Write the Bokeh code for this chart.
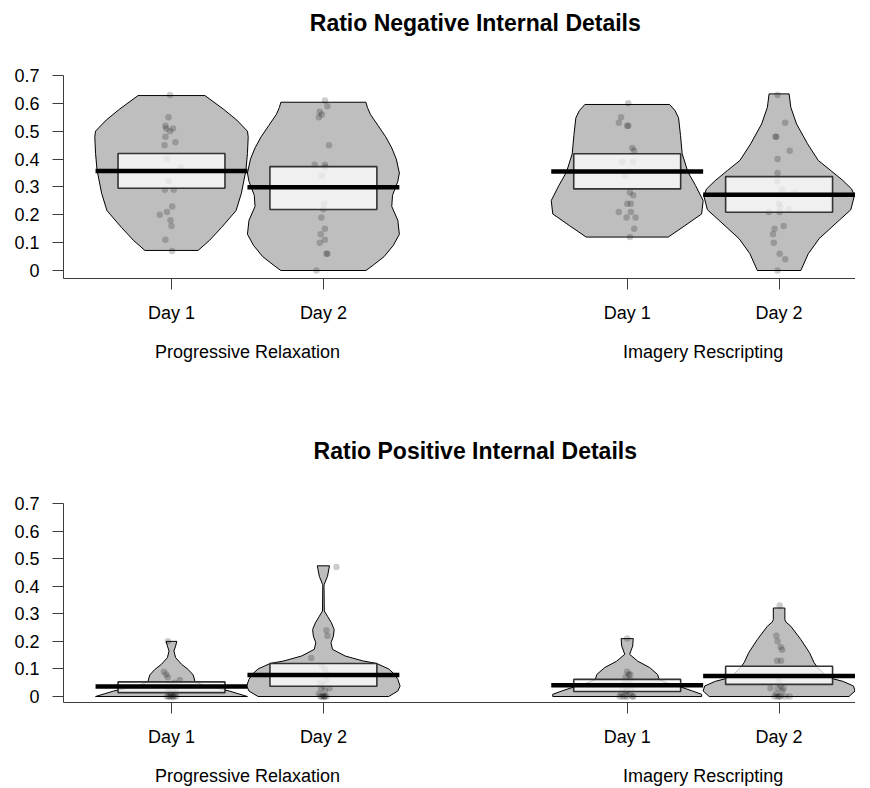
from bokeh.plotting import figure
from bokeh.layouts import column
from bokeh.models import FixedTicker, LinearAxis, Range1d
from bokeh.embed import file_html
from bokeh.resources import INLINE

# ---------------- data ----------------
conditions = ["Progressive Relaxation", "Imagery Rescripting"]
days = ["Day 1", "Day 2"]
y_ticks = [0, 0.1, 0.2, 0.3, 0.4, 0.5, 0.6, 0.7]

# Panel 1 : Ratio Negative Internal Details  (order: PR D1, PR D2, IR D1, IR D2)
neg_title = "Ratio Negative Internal Details"
neg_pr_d1 = [0.63, 0.55, 0.52, 0.51, 0.50, 0.51, 0.48, 0.46, 0.45, 0.40, 0.37,
             0.32, 0.29, 0.29, 0.23, 0.20, 0.21, 0.18, 0.16, 0.11, 0.07]
neg_pr_d1_jit = [-0.01, -0.02, -0.04, -0.035, -0.01, 0.01, -0.04, 0.026, -0.046, -0.03, 0.06,
                 -0.02, -0.044, 0.015, 0.005, -0.077, -0.03, -0.007, 0.0, -0.04, 0.004]
neg_pr_d2 = [0.0, 0.06, 0.06, 0.10, 0.11, 0.13, 0.15, 0.19, 0.22, 0.24, 0.34,
             0.37, 0.38, 0.38, 0.45, 0.55, 0.56, 0.59, 0.57, 0.61]
neg_pr_d2_jit = [-0.046, 0.02, 0.026, -0.024, 0.01, -0.018, 0.01, -0.013, 0.0, 0.004, -0.01,
                 0.013, 0.01, -0.057, 0.037, -0.03, -0.01, 0.026, -0.024, 0.01]
neg_ir_d1 = [0.60, 0.55, 0.53, 0.52, 0.52, 0.44, 0.43, 0.39, 0.39, 0.34,
             0.28, 0.27, 0.24, 0.24, 0.21, 0.21, 0.19, 0.19, 0.15, 0.12]
neg_ir_d1_jit = [0.007, -0.04, -0.055, 0.0, 0.007, 0.033, 0.046, 0.04, -0.033, -0.015,
                 0.018, 0.04, 0.024, 0.0, -0.055, 0.024, -0.004, 0.055, 0.046, 0.018]
neg_ir_d2 = [0.63, 0.53, 0.48, 0.48, 0.43, 0.40, 0.35, 0.32, 0.29, 0.28, 0.24,
             0.23, 0.22, 0.21, 0.21, 0.16, 0.15, 0.13, 0.10, 0.06, 0.04, 0.0]
neg_ir_d2_jit = [-0.01, 0.04, -0.024, -0.018, 0.07, -0.01, -0.01, -0.013, 0.02, 0.1, 0.0,
                 0.008, 0.064, -0.068, 0.002, 0.03, -0.03, -0.04, -0.035, 0.004, 0.04, -0.01]
neg_values = [neg_pr_d1, neg_pr_d2, neg_ir_d1, neg_ir_d2]
neg_jitter = [neg_pr_d1_jit, neg_pr_d2_jit, neg_ir_d1_jit, neg_ir_d2_jit]
neg_means = [0.357, 0.299, 0.355, 0.272]
neg_low = [0.295, 0.219, 0.293, 0.209]
neg_high = [0.420, 0.373, 0.419, 0.337]
# violin outlines: density levels and half widths
neg_levels = [
    [0.072, 0.108, 0.155, 0.215, 0.277, 0.36, 0.42, 0.48, 0.50, 0.54, 0.58, 0.628],
    [0.0, 0.02, 0.05, 0.09, 0.13, 0.18, 0.23, 0.27, 0.32, 0.35, 0.40, 0.44, 0.48, 0.52, 0.56, 0.585, 0.604],
    [0.12, 0.161, 0.203, 0.251, 0.305, 0.353, 0.419, 0.485, 0.548, 0.574, 0.596],
    [0.0, 0.06, 0.114, 0.18, 0.218, 0.269, 0.293, 0.323, 0.359, 0.395, 0.455, 0.526, 0.586, 0.634],
]
neg_widths = [
    [0.175, 0.25, 0.33, 0.425, 0.46, 0.49, 0.50, 0.505, 0.50, 0.43, 0.34, 0.22],
    [0.28, 0.33, 0.40, 0.46, 0.50, 0.49, 0.45, 0.455, 0.49, 0.50, 0.48, 0.45, 0.41, 0.36, 0.31, 0.29, 0.28],
    [0.27, 0.38, 0.49, 0.50, 0.45, 0.40, 0.362, 0.351, 0.338, 0.315, 0.279],
    [0.143, 0.192, 0.263, 0.395, 0.472, 0.496, 0.477, 0.42, 0.34, 0.258, 0.187, 0.115, 0.077, 0.066],
]

# Panel 2 : Ratio Positive Internal Details
pos_title = "Ratio Positive Internal Details"
pos_pr_d1 = [0.20, 0.09, 0.08, 0.07, 0.06, 0.05, 0.04, 0.03, 0.03, 0.02,
             0.02, 0.01, 0.01, 0.0, 0.0, 0.0, 0.0, 0.0, 0.0, 0.0]
pos_pr_d1_jit = [-0.024, -0.05, -0.035, -0.024, 0.055, 0.02, -0.01, 0.03, -0.03, 0.01,
                 -0.02, 0.025, -0.005, -0.02, 0.0, 0.015, -0.01, 0.03, 0.01, -0.03]
pos_pr_d2 = [0.47, 0.24, 0.22, 0.14, 0.11, 0.10, 0.08, 0.06, 0.05, 0.04,
             0.03, 0.03, 0.02, 0.01, 0.0, 0.0, 0.0, 0.0, 0.0, 0.0]
pos_pr_d2_jit = [0.086, 0.02, 0.026, -0.08, -0.01, 0.01, 0.03, 0.02, -0.02, 0.0,
                 -0.015, 0.04, 0.01, -0.03, 0.0, 0.01, -0.01, 0.02, -0.02, 0.005]
pos_ir_d1 = [0.21, 0.09, 0.08, 0.08, 0.07, 0.06, 0.05, 0.04, 0.03, 0.03,
             0.02, 0.02, 0.01, 0.01, 0.0, 0.0, 0.0, 0.0, 0.0, 0.0]
pos_ir_d1_jit = [0.0, 0.0, 0.01, 0.02, -0.01, 0.02, -0.02, 0.01, -0.03, 0.03,
                 0.0, -0.01, 0.02, -0.04, -0.05, 0.04, -0.03, 0.0, 0.035, -0.015]
pos_ir_d2 = [0.33, 0.22, 0.20, 0.18, 0.17, 0.13, 0.13, 0.06, 0.04, 0.03,
             0.03, 0.03, 0.02, 0.01, 0.0, 0.0, 0.0, 0.0, 0.0, 0.0]
pos_ir_d2_jit = [0.004, -0.018, -0.01, 0.01, 0.02, -0.013, 0.013, 0.0, 0.01, -0.057,
                 -0.008, 0.03, 0.02, -0.02, 0.0, 0.07, -0.01, 0.01, -0.03, 0.04]
pos_values = [pos_pr_d1, pos_pr_d2, pos_ir_d1, pos_ir_d2]
pos_jitter = [pos_pr_d1_jit, pos_pr_d2_jit, pos_ir_d1_jit, pos_ir_d2_jit]
pos_means = [0.036, 0.078, 0.041, 0.074]
pos_low = [0.014, 0.037, 0.018, 0.044]
pos_high = [0.053, 0.120, 0.062, 0.110]
pos_levels = [
    [0.0, 0.01, 0.02, 0.03, 0.04, 0.05, 0.056, 0.078, 0.098, 0.117, 0.141, 0.165, 0.183, 0.20],
    [0.0, 0.02, 0.038, 0.062, 0.08, 0.10, 0.12, 0.129, 0.147, 0.171, 0.195, 0.219, 0.243, 0.267,
     0.291, 0.31, 0.40, 0.406, 0.436, 0.474],
    [0.0, 0.008, 0.02, 0.035, 0.05, 0.062, 0.08, 0.105, 0.128, 0.153, 0.183, 0.21],
    [0.0, 0.02, 0.038, 0.055, 0.065, 0.08, 0.108, 0.123, 0.159, 0.207, 0.255, 0.27, 0.279, 0.321],
]
pos_widths = [
    [0.50, 0.44, 0.38, 0.30, 0.22, 0.17, 0.154, 0.143, 0.11, 0.066, 0.027, 0.016, 0.027, 0.035],
    [0.43, 0.49, 0.505, 0.49, 0.47, 0.43, 0.35, 0.26, 0.143, 0.06, 0.05, 0.066, 0.071, 0.053,
     0.027, 0.006, 0.004, 0.005, 0.027, 0.04],
    [0.49, 0.49, 0.43, 0.35, 0.26, 0.21, 0.20, 0.148, 0.07, 0.016, 0.036, 0.04],
    [0.46, 0.50, 0.49, 0.42, 0.35, 0.30, 0.25, 0.23, 0.20, 0.143, 0.077, 0.045, 0.038, 0.038],
]

FONT = "Liberation Sans"
AXIS_COL = "#3c3c3c"


def bare_axis(ticks, labels, size, bold, standoff):
    ax = LinearAxis(ticker=FixedTicker(ticks=ticks), major_label_overrides=labels)
    ax.axis_line_color = None
    ax.major_tick_line_color = None
    ax.minor_tick_line_color = None
    ax.major_tick_in = 0
    ax.major_tick_out = 0
    ax.major_label_standoff = standoff
    ax.major_label_text_font = FONT
    ax.major_label_text_font_size = size
    ax.major_label_text_color = "black"
    if bold:
        ax.major_label_text_font_style = "bold"
    return ax


def make_panel(title, values, jitter, means, low, high, levels, widths,
               height, top_border, frame_h, y_start):
    p = figure(width=855, height=height,
               x_range=Range1d(0.289, 5.503), y_range=Range1d(y_start, 0.7),
               output_backend="svg", toolbar_location=None,
               min_border_left=63, min_border_right=0,
               min_border_top=top_border,
               min_border_bottom=height - top_border - frame_h)
    p.grid.visible = False
    p.outline_line_color = None
    p.background_fill_color = "white"
    p.border_fill_color = "white"

    centers = [ci * 3 + di + 1 for ci in range(len(conditions)) for di in range(len(days))]
    tick_labels = {c: days[i % 2] for i, c in enumerate(centers)}
    group_centers = [ci * 3 + 1.5 for ci in range(len(conditions))]

    # violins
    xs, ys = [], []
    for c, lv, wd in zip(centers, levels, widths):
        xs.append([c - w for w in wd] + [c + w for w in reversed(wd)])
        ys.append(list(lv) + list(reversed(lv)))
    p.patches(xs, ys, fill_color="#bebebe", line_color="black", line_width=1)

    # points
    px, py = [], []
    for c, vals, jit in zip(centers, values, jitter):
        px += [c + j for j in jit]
        py += vals
    p.scatter(px, py, size=6.5, fill_color="black", fill_alpha=0.2, line_color=None)

    # inference bands
    p.quad(left=[c - 0.352 for c in centers], right=[c + 0.352 for c in centers],
           bottom=low, top=high, fill_color="white", fill_alpha=0.76,
           line_color="#333333", line_width=1.6)

    # mean bars
    p.segment(x0=[c - 0.5 for c in centers], x1=[c + 0.5 for c in centers],
              y0=means, y1=means, line_color="black", line_width=4.5, line_cap="butt")

    # axes
    for ax in (p.xaxis, p.yaxis):
        ax.axis_line_color = AXIS_COL
        ax.axis_line_width = 1
        ax.major_tick_line_color = AXIS_COL
        ax.major_tick_in = 0
        ax.major_tick_out = 11
        ax.minor_tick_line_color = None
        ax.major_label_text_font = FONT
        ax.major_label_text_font_size = "18px"
        ax.major_label_text_color = "black"
    p.xaxis.ticker = FixedTicker(ticks=centers)
    p.xaxis.major_label_overrides = tick_labels
    p.xaxis.major_label_standoff = 13
    p.yaxis.ticker = FixedTicker(ticks=y_ticks)
    p.yaxis.major_label_overrides = {0: "0"}
    p.yaxis.major_label_standoff = 13

    # condition names (second row below the axis) and title (above, centred on plot region)
    p.add_layout(bare_axis(group_centers, {g: n for g, n in zip(group_centers, conditions)},
                           "18px", False, 16), "below")
    p.add_layout(bare_axis([3], {3: title}, "23px", True, 40), "above")
    return p


p1 = make_panel(neg_title, neg_values, neg_jitter, neg_means, neg_low, neg_high,
                neg_levels, neg_widths, height=400, top_border=75, frame_h=203,
                y_start=-0.0287)
p2 = make_panel(pos_title, pos_values, pos_jitter, pos_means, pos_low, pos_high,
                pos_levels, pos_widths, height=388, top_border=103, frame_h=200,
                y_start=-0.0217)

layout = column(p1, p2, spacing=0)
open("out.html", "w").write(file_html(layout, INLINE))
